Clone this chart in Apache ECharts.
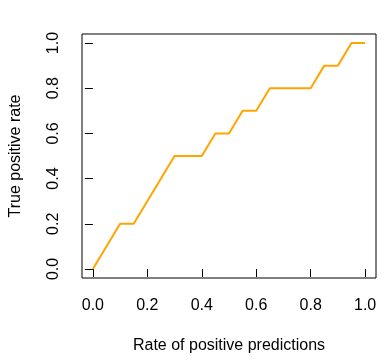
<!DOCTYPE html>
<html>
<head>
<meta charset="utf-8">
<script src="https://cdn.jsdelivr.net/npm/echarts@6/dist/echarts.min.js"></script>
<style>html,body{margin:0;padding:0;background:#fff}#c{width:386px;height:362px}</style>
</head>
<body>
<div id="c"></div>
<script>
var rateX = [0, 0.1, 0.15, 0.3, 0.4, 0.45, 0.5, 0.55, 0.6, 0.65, 0.8, 0.85, 0.9, 0.95, 1.0];
var tprY  = [0, 0.2, 0.2, 0.5, 0.5, 0.6, 0.6, 0.7, 0.7, 0.8, 0.8, 0.9, 0.9, 1.0, 1.0];
var tickValues = [0, 0.2, 0.4, 0.6, 0.8, 1.0];
var tickLabels = ['0.0', '0.2', '0.4', '0.6', '0.8', '1.0'];
var xTitle = 'Rate of positive predictions';
var yTitle = 'True positive rate';

var pts = rateX.map(function (x, i) { return [x, tprY[i]]; });
function fmt(v) {
  var i = tickValues.findIndex(function (t) { return Math.abs(t - v) < 1e-9; });
  return i >= 0 ? tickLabels[i] : '';
}
var font = 'Liberation Sans, Arial, sans-serif';
var chart = echarts.init(document.getElementById('c'), null, {renderer: 'canvas'});
chart.setOption({
  animation: false,
  backgroundColor: '#fff',
  grid: {left: 78, right: 10, top: 34, bottom: 84, show: true, borderColor: '#000', borderWidth: 1, containLabel: false},
  xAxis: {
    type: 'value', min: -0.04, max: 1.04,
    name: xTitle, nameLocation: 'middle', nameGap: 60,
    nameTextStyle: {color: '#000', fontSize: 16, fontFamily: font},
    axisLine: {show: false},
    splitLine: {show: false},
    axisTick: {show: true, length: 8, customValues: tickValues, lineStyle: {color: '#000', width: 1}},
    axisLabel: {show: true, customValues: tickValues, formatter: fmt, margin: 20, color: '#000', fontSize: 16, fontFamily: font}
  },
  yAxis: {
    type: 'value', min: -0.04, max: 1.04,
    name: yTitle, nameLocation: 'middle', nameGap: 58,
    nameTextStyle: {color: '#000', fontSize: 16, fontFamily: font},
    axisLine: {show: false},
    splitLine: {show: false},
    axisTick: {show: true, length: 8, customValues: tickValues, lineStyle: {color: '#000', width: 1}},
    axisLabel: {show: true, customValues: tickValues, formatter: fmt, rotate: 90, margin: 20, color: '#000', fontSize: 16, fontFamily: font}
  },
  series: [{
    type: 'line', data: pts, showSymbol: false, symbol: 'none',
    lineStyle: {color: '#FFA500', width: 2}
  }]
});
</script>
</body>
</html>
